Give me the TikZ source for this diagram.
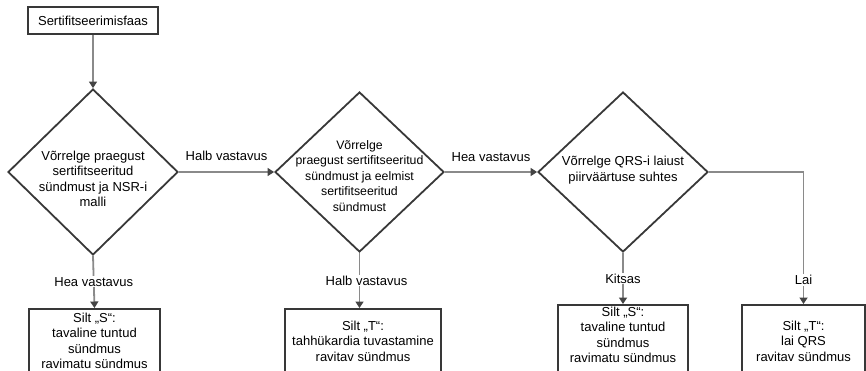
\documentclass[tikz,border=0pt]{standalone}
\usepackage{fontspec}
\setmainfont{Liberation Sans}
\usetikzlibrary{shapes.geometric,arrows.meta}
\definecolor{shapeline}{HTML}{383838}
\definecolor{arrline}{HTML}{8A8A8A}
\definecolor{tipcol}{HTML}{444444}
\tikzset{
  boxshape/.style={draw=shapeline, line width=1.8pt, rectangle, inner sep=0pt},
  decision/.style={draw=shapeline, line width=1.8pt, diamond, inner sep=0pt, aspect=1},
  txt/.style={align=center, inner sep=0pt, font=\fontsize{13}{15.5}\selectfont},
  smalltxt/.style={align=center, inner sep=0pt, font=\fontsize{12.3}{15.5}\selectfont},
  arr/.style={draw=arrline, line width=1.8pt, -{Triangle[length=6.5pt,width=8pt,color=tipcol]}},
  lbl/.style={fill=white, inner sep=1pt, font=\fontsize{13}{15.5}\selectfont}
}
\begin{document}
\begin{tikzpicture}[x=1pt,y=-1pt]
\useasboundingbox (0,0) rectangle (866,370);
\clip (0,0) rectangle (866,370);

% start box
\node[boxshape, minimum width=130pt, minimum height=27pt, txt] (sf) at (93,20.5) {Sertifitseerimisfaas};

% diamonds
\node[decision, minimum width=170pt, minimum height=166pt] (d1) at (93,172) {};
\node[txt] (d1t) at (93,179) {Võrrelge praegust\\sertifitseeritud\\sündmust ja NSR-i\\malli};

\node[decision, minimum width=169pt, minimum height=160pt] (d2) at (359.5,172) {};
\node[smalltxt] (d2t) at (359.5,176) {Võrrelge\\praegust sertifitseeritud\\sündmust ja eelmist\\sertifitseeritud\\sündmust};

\node[decision, minimum width=170pt, minimum height=160pt] (d3) at (623,172) {};
\node[txt] (d3t) at (623,170) {Võrrelge QRS-i laiust\\piirväärtuse suhtes};

% result boxes (bottom edges run past the picture)
\node[boxshape, minimum width=131pt, minimum height=80pt, anchor=north] (s1) at (94.5,308) {};
\node[txt] (s1t) at (94.5,341) {Silt „S“:\\tavaline tuntud\\sündmus\\ravimatu sündmus};

\node[boxshape, minimum width=156pt, minimum height=80pt, anchor=north] (t1) at (363,308) {};
\node[txt] (t1t) at (363,341) {Silt „T“:\\tahhükardia tuvastamine\\ravitav sündmus};

\node[boxshape, minimum width=130pt, minimum height=80pt, anchor=north] (s2) at (623,304) {};
\node[txt] (s2t) at (623,335) {Silt „S“:\\tavaline tuntud\\sündmus\\ravimatu sündmus};

\node[boxshape, minimum width=123pt, minimum height=80pt, anchor=north] (t2) at (803.5,304) {};
\node[txt] (t2t) at (803.5,341) {Silt „T“:\\lai QRS\\ravitav sündmus};

% connectors
\draw[arr] (sf.south) -- (d1.north);
\draw[arr] (d1.east) -- node[lbl, midway, yshift=16pt, fill=none] {Halb vastavus} (d2.west);
\draw[arr] (d2.east) -- node[lbl, midway, yshift=15pt, fill=none] {Hea vastavus} (d3.west);
\draw[arr] (d1.south) -- node[lbl, midway] {Hea vastavus} (s1.north);
\draw[arr] (d2.south) -- node[lbl, midway, xshift=7pt] {Halb vastavus} (d2.south |- t1.north);
\draw[arr] (d3.south) -- node[lbl, midway] {Kitsas} (s2.north);
\draw[arr] (d3.east) -| node[lbl, pos=0.91] {Lai} (t2.north);
\end{tikzpicture}
\end{document}
